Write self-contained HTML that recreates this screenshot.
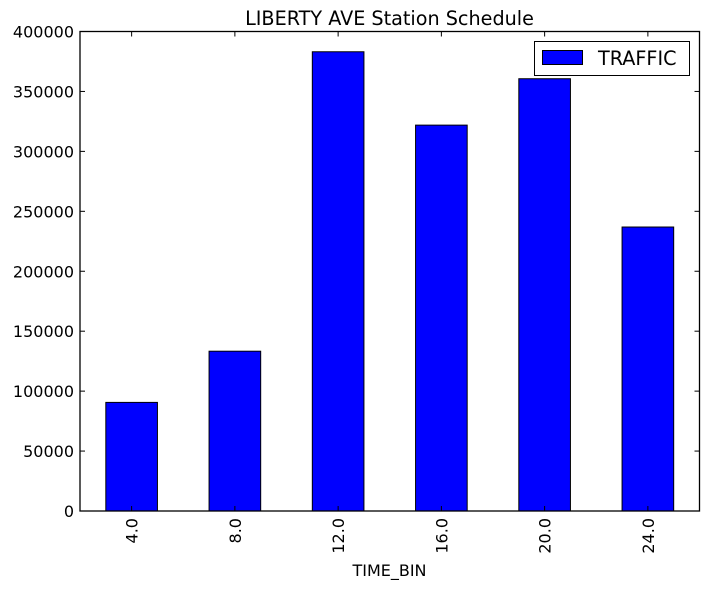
<!DOCTYPE html>
<html><head><meta charset="utf-8"><style>body{margin:0;background:#fff}svg{display:block;font-family:"DejaVu Sans","Liberation Sans",sans-serif}</style></head>
<body>
<svg id="chart" width="709" height="589" viewBox="0 0 709 589"></svg>
<script>
const categories = ["4.0","8.0","12.0","16.0","20.0","24.0"];
const traffic = [90600, 133300, 383100, 321900, 360600, 236900];
const yTicks = [0,50000,100000,150000,200000,250000,300000,350000,400000];
const L=80,R=699.5,T=31.5,B=511;
const svg=document.getElementById('chart');
const NS='http://www.w3.org/2000/svg';
function xScale(i){return L+(i+0.5)*(R-L)/categories.length;}
function yScale(v){return B-(v/400000)*(B-T);}
function mk(t,a,p){const e=document.createElementNS(NS,t);for(const k in a)e.setAttribute(k,a[k]);(p||svg).appendChild(e);return e;}
const bw=(R-L)/categories.length*0.5;
traffic.forEach((v,i)=>{
  const r=mk('rect',{x:xScale(i)-bw/2,y:yScale(v),width:bw,height:B-yScale(v),fill:'#0000ff',stroke:'#000','stroke-width':1});
  
  
});
mk('rect',{x:L,y:T,width:R-L,height:B-T,fill:'none',stroke:'#000','stroke-width':1.3,});
yTicks.forEach(v=>{
  const y=yScale(v);
  mk('line',{x1:L,x2:L+5,y1:y,y2:y,stroke:'#000'});
  mk('line',{x1:R-5,x2:R,y1:y,y2:y,stroke:'#000'});
  const t=mk('text',{x:L-6,y:y+6,'text-anchor':'end','font-size':16});
  t.textContent=v;
  
  
});
categories.forEach((c,i)=>{
  const x=xScale(i);
  mk('line',{x1:x,x2:x,y1:B,y2:B-5,stroke:'#000'});
  mk('line',{x1:x,x2:x,y1:T,y2:T+5,stroke:'#000'});
  const t=mk('text',{x:0,y:0,'text-anchor':'end','font-size':16,transform:`translate(${x+6},${B+7}) rotate(-90)`});
  t.textContent=c;
  
  
});
const tt=mk('text',{x:389.5,y:25,'text-anchor':'middle','font-size':19.2,});tt.textContent='LIBERTY AVE Station Schedule';
const xt=mk('text',{x:389.5,y:576,'text-anchor':'middle','font-size':16,});xt.textContent='TIME_BIN';
const lg=mk('g',{});
mk('rect',{x:534.5,y:41.5,width:155,height:34,fill:'#fff',stroke:'#000','stroke-width':1},lg);
mk('rect',{x:542.5,y:50.5,width:40,height:14,fill:'#0000ff',stroke:'#000','stroke-width':1,},lg);
const lt=mk('text',{x:598,y:65,'font-size':19.2,},lg);lt.textContent='TRAFFIC';
</script>
</body></html>
